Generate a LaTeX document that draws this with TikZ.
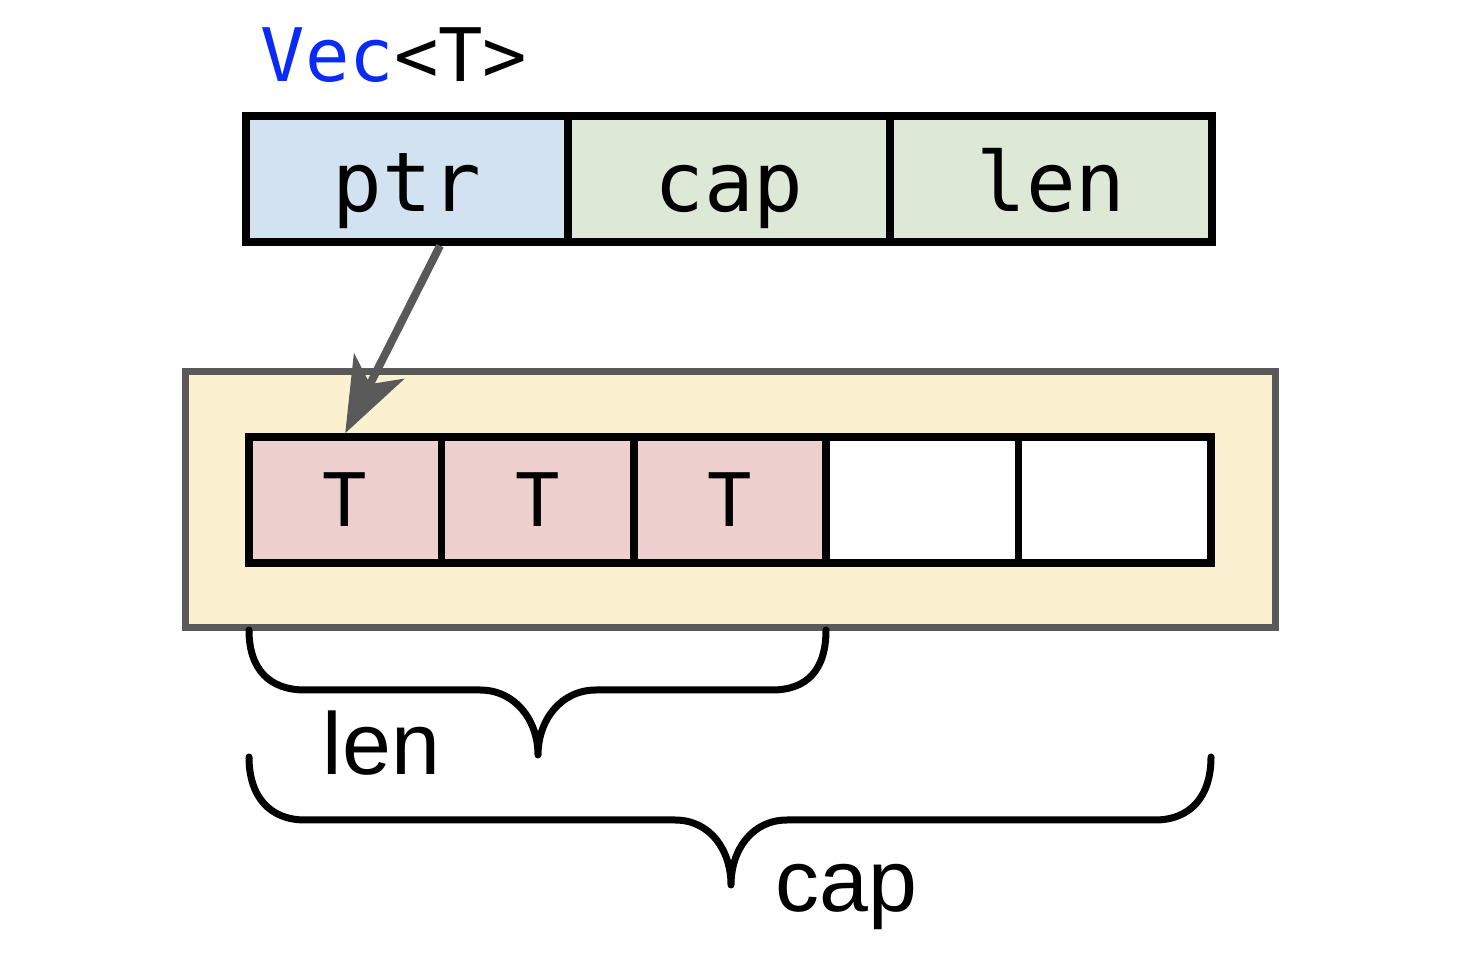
\documentclass[tikz,border=0pt]{standalone}
\usepackage{fontspec}
\setmonofont{DejaVu Sans Mono}
\setsansfont{Liberation Sans}
\usetikzlibrary{arrows.meta}

\definecolor{ptrblue}{HTML}{D2E2F1}
\definecolor{fieldgreen}{HTML}{DDE9D6}
\definecolor{elempink}{HTML}{EDCFCE}
\definecolor{bufyellow}{HTML}{FBF0D0}
\definecolor{edgegray}{HTML}{595959}
\definecolor{typeblue}{HTML}{0A2AF5}

\tikzstyle{field}=[draw,line width=0.075cm,minimum width=3.22cm,minimum height=1.26cm,inner sep=0pt,
                   font=\ttfamily\fontsize{23.5}{28}\selectfont,text height=0.86cm,text depth=0.2cm]
\tikzstyle{cell}=[draw,line width=0.075cm,minimum width=1.924cm,minimum height=1.26cm,inner sep=0pt,
                  font=\ttfamily\fontsize{21}{25}\selectfont]
\tikzstyle{buffer}=[draw=edgegray,fill=bufyellow,line width=0.07cm,minimum width=10.9cm,minimum height=2.56cm]
\tikzstyle{pointer}=[draw=edgegray,line width=0.08cm,-{Stealth[length=0.75cm,width=0.56cm,inset=0.2cm]}]
\tikzstyle{brace}=[draw,line width=0.07cm,line cap=round,line join=round]
\tikzstyle{label}=[inner sep=0pt,font=\sffamily\fontsize{25}{30}\selectfont]

\begin{document}
\begin{tikzpicture}
                              \useasboundingbox (0,0) rectangle (14.58,-9.54);
                              % The Vec header with its three fields
                              \node[inner sep=0pt,anchor=base west,font=\ttfamily\fontsize{21}{25}\selectfont] (title) at (2.60,-0.82)
                                    {\textcolor{typeblue}{Vec}<T>};
                              \foreach \pos/\name/\col in {{(4.07,-1.79)/ptr/ptrblue}, {(7.29,-1.79)/cap/fieldgreen}, {(10.51,-1.79)/len/fieldgreen}}
                                    \node[field,fill=\col] (\name) at \pos {\name};
                              % The heap buffer and its five slots
                              \node[buffer] (heap) at (7.30,-5.00) {};
                              \foreach \i/\col/\la in {1/elempink/T, 2/elempink/T, 3/elempink/T, 4/white/, 5/white/}
                                    \node[cell,fill=\col] (slot\i) at (3.452+1.924*\i-1.924,-5.00) {\la};
                              % ptr points at the first slot
                              \path[pointer] ([xshift=3.3mm]ptr.south) -- (slot1.north);
                              % Braces for len and cap
                              \path[brace] (2.49,-6.30) .. controls (2.49,-6.70) and (2.70,-6.90) .. (3.05,-6.90) -- (4.80,-6.90)
                                    .. controls (5.15,-6.90) and (5.38,-7.20) .. (5.38,-7.55)
                                    .. controls (5.38,-7.20) and (5.61,-6.90) .. (5.96,-6.90) -- (7.72,-6.90)
                                    .. controls (8.07,-6.90) and (8.26,-6.70) .. (8.26,-6.30);
                              \path[brace] (2.49,-7.57) .. controls (2.49,-7.97) and (2.70,-8.20) .. (3.05,-8.20) -- (6.75,-8.20)
                                    .. controls (7.10,-8.20) and (7.31,-8.50) .. (7.31,-8.85)
                                    .. controls (7.31,-8.50) and (7.52,-8.20) .. (7.87,-8.20) -- (11.55,-8.20)
                                    .. controls (11.90,-8.20) and (12.11,-7.97) .. (12.11,-7.57);
                              \node[label,anchor=base west] (lenlabel) at (3.22,-7.75) {len};
                              \node[label,anchor=base west] (caplabel) at (7.75,-9.12) {cap};
                        \end{tikzpicture}
\end{document}
